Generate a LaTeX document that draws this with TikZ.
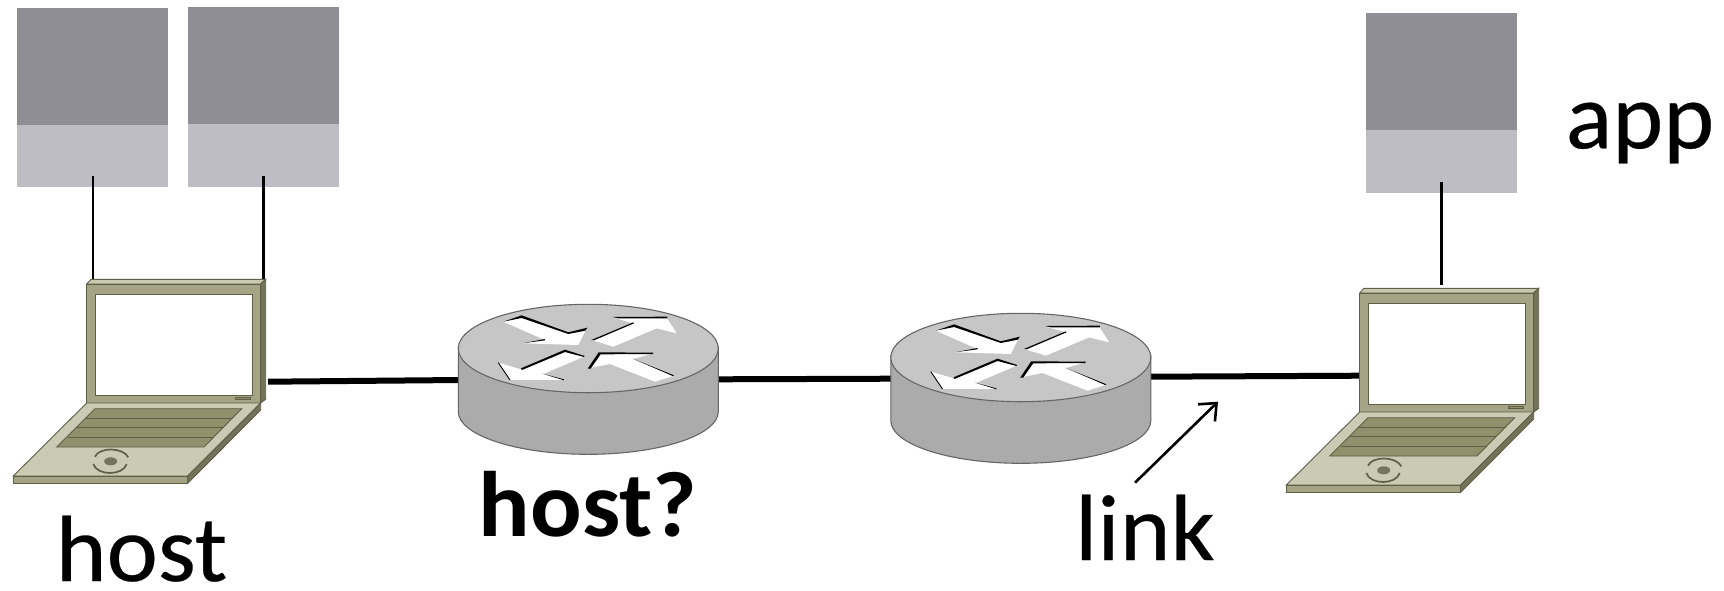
\documentclass[tikz,border=0pt]{standalone}
\usepackage{fontspec}
\setmainfont[FakeStretch=1.033]{Carlito}
\newfontfamily\regfont[FakeStretch=1.033,FakeBold=0.3]{Carlito}
\usetikzlibrary{arrows.meta}
\definecolor{boxdark}{HTML}{8E8E94}
\definecolor{boxlight}{HTML}{BEBDC3}
\definecolor{lidc}{HTML}{A5A585}
\definecolor{lidtop}{HTML}{C9C9B2}
\definecolor{lidside}{HTML}{73735A}
\definecolor{basec}{HTML}{CBCBB5}
\definecolor{keyc}{HTML}{90906C}
\definecolor{edgec}{HTML}{5F5F48}
\definecolor{rtop}{HTML}{C6C6C6}
\definecolor{rside}{HTML}{ABABAB}
\definecolor{redge}{HTML}{666666}
\tikzset{
  boxup/.style={fill=boxdark,draw=none},
  boxlow/.style={fill=boxlight,draw=none},
  wire/.style={draw=black,line width=2.7pt},
  linkline/.style={draw=black,line width=6pt},
  lbl/.style={inner sep=0pt,text=black,anchor=base,font=\fontsize{94}{94}\selectfont\regfont},
  lapline/.style={draw=edgec,line width=0.9pt},
  rline/.style={draw=redge,line width=1.1pt},
  thinblack/.style={draw=black,line width=0.9pt},
  laptop/.pic={
    \path[fill=lidtop,lapline] (86.7,284)--(91,279.3)--(265.7,279.3)--(260.7,284)--cycle;
    \path[fill=lidside,lapline] (260.7,284)--(265.7,279.3)--(265.7,399.3)--(260.7,403)--cycle;
    \path[fill=lidc,lapline] (86.7,284) rectangle (260.7,403);
    \path[fill=white,lapline] (95,294) rectangle (252,395.3);
    \path[fill=keyc,lapline] (235.3,397) rectangle (250.7,399.7);
    \path[fill=basec,lapline] (86.7,403)--(260.7,403)--(187.7,476)--(13.3,476)--cycle;
    \path[fill=lidside,lapline] (260.7,403)--(260.7,410)--(187.7,483.3)--(187.7,476)--cycle;
    \path[fill=lidc,lapline] (13.3,476) rectangle (187.7,483.3);
    \path[fill=keyc,lapline] (95,408.7)--(241.7,408.7)--(204,447)--(56.7,447)--cycle;
    \draw[lapline] (86,418.3)--(232.5,418.3) (76.9,427.7)--(223.3,427.7) (67.5,437.3)--(213.8,437.3);
    \path[fill=edgec,draw=none,opacity=.8] (110.7,461.3) ellipse [x radius=6.5,y radius=4];
    \draw[draw=edgec,line width=1.7pt] (95,456.7) .. controls (99,447) and (123,447) .. (128.3,457.3);
    \draw[draw=edgec,line width=1.7pt] (93.3,464) .. controls (97,476) and (123,476) .. (126.7,464);
  },
  router/.pic={
    \path[fill=rside,rline] (458.3,346.7)--(458.3,411.7) .. controls (458.3,435) and (516,454.3) .. (588.3,454.3) .. controls (660,454.3) and (718.3,435) .. (718.3,411.7)--(718.3,346.7)--cycle;
    \path[fill=rtop,rline] (588.3,348.5) ellipse [x radius=130,y radius=44.2];
    \begin{scope}[shift={(440,290)},x=0.3333pt,y=-0.3333pt]
      \fill[white] (190,95)--(245,78)--(385,130)--(440,115)--(415,165)--(250,160)--(315,150)--cycle;
      \fill[white] (455,150)--(580,100)--(520,83)--(680,83)--(710,130)--(650,115)--(520,170)--cycle;
      \fill[white] (175,218)--(243,238)--(375,182)--(432,200)--(310,252)--(372,270)--(210,270)--cycle;
      \fill[white] (445,235)--(478,190)--(638,190)--(580,207)--(700,258)--(645,275)--(510,222)--cycle;
      % tapered shadows along the arrow edges
      \fill[black] (190,95)--(245,76)--(385,127)--(442,113)--(436,122)--(385,132)--(245,84)--cycle;
      \fill[black] (252,159)--(315,147)--(315,151)--cycle;
      \fill[black] (454,150)--(580,97)--(582,100)--(462,151)--cycle;
      \fill[black] (518,81)--(682,80)--(682,85)--(535,85)--cycle;
      \fill[black] (243,235)--(375,179)--(434,198)--(432,201)--(375,186)--(246,240)--cycle;
      \fill[black] (308,251)--(372,268)--(372,271)--cycle;
      \draw[thinblack] (175,218)--(210,270);
      \fill[black] (443,236)--(476,187)--(640,188)--(638,192)--(482,193)--(452,236)--cycle;
      \fill[black] (578,206)--(702,256)--(698,258)--cycle;
    \end{scope}
  }
}
\begin{document}
\begin{tikzpicture}[x=1pt,y=-1pt]
\useasboundingbox (0,0) rectangle (1724,590);
% apps
\fill[boxlow] (17,125) rectangle (168,186.7);
\fill[boxup] (17,8) rectangle (168,125);
\fill[boxlow] (188,124) rectangle (339,186.7);
\fill[boxup] (188,7) rectangle (339,124);
\fill[boxlow] (1366,130) rectangle (1517,192.7);
\fill[boxup] (1366,13) rectangle (1517,130);
\coordinate (a1) at (93,176);
\coordinate (a2) at (263.3,176);
\coordinate (a3) at (1441.7,182);
\coordinate (l1a) at (93,279.3);
\coordinate (l1b) at (263.3,279.3);
\coordinate (l2a) at (1441.7,285);
\draw[wire] (a1)--(l1a);
\draw[wire] (a2)--(l1b);
\draw[wire] (a3)--(l2a);
% links
\coordinate (l1e) at (268,381.7);
\coordinate (r1w) at (460,380);
\coordinate (r1e) at (716,379.3);
\coordinate (r2w) at (892,378.7);
\coordinate (r2e) at (1148,376.7);
\coordinate (l2w) at (1360,375.7);
\draw[linkline] (l1e)--(r1w);
\draw[linkline] (r1e)--(r2w);
\draw[linkline] (r2e)--(l2w);
\pic at (0,0) {laptop};
\pic at (1273,9) {laptop};
\pic at (0,0) {router};
\pic at (432.5,9) {router};
% link arrow
\coordinate (ls) at (1135,482.7);
\coordinate (lh) at (1218,401.7);
\draw[line width=2.6pt,-{Straight Barb[length=14pt,width=24pt,line width=2.6pt]}] (ls)--(lh);
% labels
\node[lbl] (thost) at (141.5,581) {host};
\node[lbl,font=\fontsize{93}{93}\selectfont\bfseries] (thostq) at (588,536) {host?};
\node[lbl] (tlink) at (1145,560) {link};
\node[lbl] (tapp) at (1640,148.3) {app};
\end{tikzpicture}
\end{document}
